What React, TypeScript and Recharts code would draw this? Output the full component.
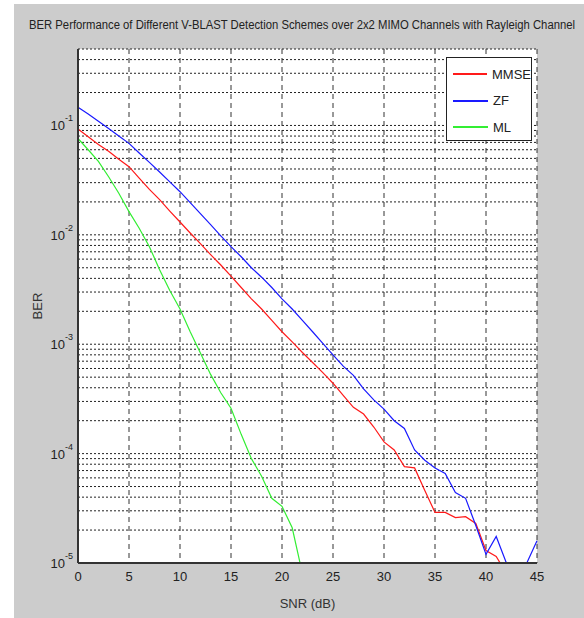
import React from 'react';
import { LineChart, Line, XAxis, YAxis, CartesianGrid, Legend } from 'recharts';

const FONT = "'Liberation Sans Narrow', 'Liberation Sans', Arial, sans-serif";

const TITLE = 'BER Performance of Different V-BLAST Detection Schemes over 2x2 MIMO Channels with Rayleigh Channel';

const seriesNames = ['MMSE', 'ZF', 'ML'];

const snr = [
  0, 1, 2, 3, 4, 5, 6, 7, 8, 9, 10, 11, 12, 13, 14, 15, 16, 17, 18, 19, 20, 21, 22,
  23, 24, 25, 26, 27, 28, 29, 30, 31, 32, 33, 34, 35, 36, 37, 38, 39, 40, 41, 42, 43, 44, 45,
];

// BER (null = no point drawn)
const mmse = [
  0.093, 0.079, 0.067, 0.058, 0.049, 0.042, 0.033, 0.026, 0.021, 0.0165, 0.0131,
  0.0104, 0.0083, 0.0066, 0.0053, 0.0042, 0.0033, 0.0026, 0.0021, 0.00165, 0.0013,
  0.00105, 8.4e-4, 6.8e-4, 5.5e-4, 4.4e-4, 3.4e-4, 2.65e-4, 2.3e-4, 1.75e-4, 1.28e-4,
  1.08e-4, 7.6e-5, 7.4e-5, 4.6e-5, 2.9e-5, 2.9e-5, 2.6e-5, 2.65e-5, 2.3e-5, 1.3e-5,
  1.15e-5, 8e-6, null, null, null,
];

const zf = [
  0.147, 0.127, 0.109, 0.094, 0.08, 0.0686, 0.056, 0.046, 0.0375, 0.0305, 0.0248,
  0.0197, 0.0156, 0.0124, 0.0098, 0.0078, 0.0063, 0.005, 0.0041, 0.0033, 0.0026,
  0.0021, 0.00165, 0.0013, 0.00102, 8.0e-4, 6.3e-4, 5.2e-4, 3.9e-4, 3.1e-4, 2.55e-4,
  2.0e-4, 1.7e-4, 1.08e-4, 8.7e-5, 7.4e-5, 6.6e-5, 4.4e-5, 3.9e-5, 2.2e-5, 1.2e-5,
  1.75e-5, 1e-5, 1e-5, 1e-5, 1.6e-5,
];

const ml = [
  0.076, 0.06, 0.047, 0.034, 0.024, 0.0163, 0.0115, 0.0078, 0.0048, 0.0031, 0.0021,
  0.0013, 8.3e-4, 5.3e-4, 3.6e-4, 2.6e-4, 1.5e-4, 9e-5, 6.2e-5, 3.9e-5, 3.3e-5,
  2.1e-5, 8e-6, null, null, null, null, null, null, null, null,
  null, null, null, null, null, null, null, null, null, null,
  null, null, null, null, null,
];

const xTicks = [0, 5, 10, 15, 20, 25, 30, 35, 40, 45];

// log grid lines (1..9 per decade)
const yTicks = [
  1e-5, 2e-5, 3e-5, 4e-5, 5e-5, 6e-5, 7e-5, 8e-5, 9e-5,
  1e-4, 2e-4, 3e-4, 4e-4, 5e-4, 6e-4, 7e-4, 8e-4, 9e-4,
  1e-3, 2e-3, 3e-3, 4e-3, 5e-3, 6e-3, 7e-3, 8e-3, 9e-3,
  1e-2, 2e-2, 3e-2, 4e-2, 5e-2, 6e-2, 7e-2, 8e-2, 9e-2,
  1e-1, 2e-1, 3e-1, 4e-1,
];

const data = snr.map((s, i) => ({ snr: s, mmse: mmse[i], zf: zf[i], ml: ml[i] }));

const YTick = (props: any) => {
  const { x, y, payload } = props;
  const v = payload.value;
  const exp = Math.round(Math.log10(v));
  if (Math.abs(v - Math.pow(10, exp)) > v * 1e-6) return <g />;
  return (
    <text x={x} y={y} textAnchor="end" fill="#222" fontSize={13} fontFamily={FONT}>
      <tspan dy={5}>10</tspan>
      <tspan dy={-9} fontSize={9}>{exp}</tspan>
    </text>
  );
};

const YLabel = (props: any) => {
  const { viewBox } = props;
  const cx = viewBox.x + 25;
  const cy = viewBox.y + viewBox.height / 2;
  return (
    <text x={cx} y={cy} transform={`rotate(-90 ${cx} ${cy})`} textAnchor="middle" dominantBaseline="middle"
      fill="#333" fontSize={13} fontFamily={FONT}>
      BER
    </text>
  );
};

const LegendBox = (props: any) => {
  const items = [...(props.payload || [])].sort(
    (a: any, b: any) => seriesNames.indexOf(a.value) - seriesNames.indexOf(b.value),
  );
  return (
    <div style={{ width: 86, height: 84, boxSizing: 'border-box', border: '1px solid #222', background: '#fff', paddingTop: 3, fontFamily: FONT, fontSize: 13, color: '#222' }}>
      {items.map((entry: any) => (
        <div key={entry.value} style={{ display: 'flex', alignItems: 'center', height: 26.5 }}>
          <span style={{ width: 35, height: 0, borderTop: `2px solid ${entry.color}`, marginLeft: 6, marginRight: 5 }} />
          {entry.value}
        </div>
      ))}
    </div>
  );
};

export default function App() {
  return (
    <div style={{ position: 'absolute', left: 0, top: 0, width: 584, height: 618, background: '#fff' }}>
      <div style={{ position: 'absolute', left: 14, top: 4, width: 570, height: 614, background: '#cccccc' }} />
      <svg style={{ position: 'absolute', left: 0, top: 0 }} width={584} height={45}>
        <g transform="translate(0 29) scale(1 1.15)">
          <text x={29} y={0} fontSize={11} fontFamily={FONT} fill="#222" textLength={546} lengthAdjust="spacingAndGlyphs">
            {TITLE}
          </text>
        </g>
      </svg>
      <div style={{ position: 'absolute', left: 0, top: 0 }}>
        <LineChart width={584} height={618} data={data} margin={{ top: 49, right: 47, bottom: 10, left: 14 }}>
          <CartesianGrid fill="#fff" vertical={false} stroke="#222" strokeDasharray="2 2" />
          <CartesianGrid horizontal={false} stroke="#333" strokeDasharray="5 4" />
          <XAxis
            dataKey="snr"
            type="number"
            domain={[0, 45]}
            ticks={xTicks}
            height={45}
            tickLine={false}
            tickMargin={3}
            axisLine={{ stroke: '#333', strokeWidth: 2 }}
            tick={{ fill: '#222', fontSize: 13, fontFamily: FONT }}
            label={{ value: 'SNR (dB)', position: 'insideBottom', offset: 0, fill: '#333', fontSize: 13, fontFamily: FONT }}
          />
          <XAxis xAxisId="top" orientation="top" type="number" domain={[0, 45]} ticks={xTicks} height={0} tick={false} tickLine={false} axisLine={{ stroke: '#222' }} />
          <YAxis
            type="number"
            scale="log"
            domain={[1e-5, 0.5]}
            allowDataOverflow
            ticks={yTicks}
            interval={0}
            width={64}
            tickSize={0}
            tickMargin={5}
            tickLine={false}
            axisLine={{ stroke: '#333', strokeWidth: 2 }}
            tick={<YTick />}
            label={<YLabel />}
          />
          <YAxis yAxisId="right" orientation="right" type="number" domain={[0, 1]} width={0} tick={false} tickLine={false} axisLine={{ stroke: '#222' }} />
          <Legend
            layout="horizontal"
            verticalAlign="middle"
            align="center"
            wrapperStyle={{ left: 446, top: 57, width: 86, height: 84 }}
            content={<LegendBox />}
          />
          <Line dataKey="mmse" name="MMSE" stroke="#ff1a1a" strokeWidth={1.2} dot={false} isAnimationActive={false} />
          <Line dataKey="zf" name="ZF" stroke="#1a1aff" strokeWidth={1.2} dot={false} isAnimationActive={false} />
          <Line dataKey="ml" name="ML" stroke="#33ee33" strokeWidth={1.2} dot={false} isAnimationActive={false} />
        </LineChart>
      </div>
    </div>
  );
}
